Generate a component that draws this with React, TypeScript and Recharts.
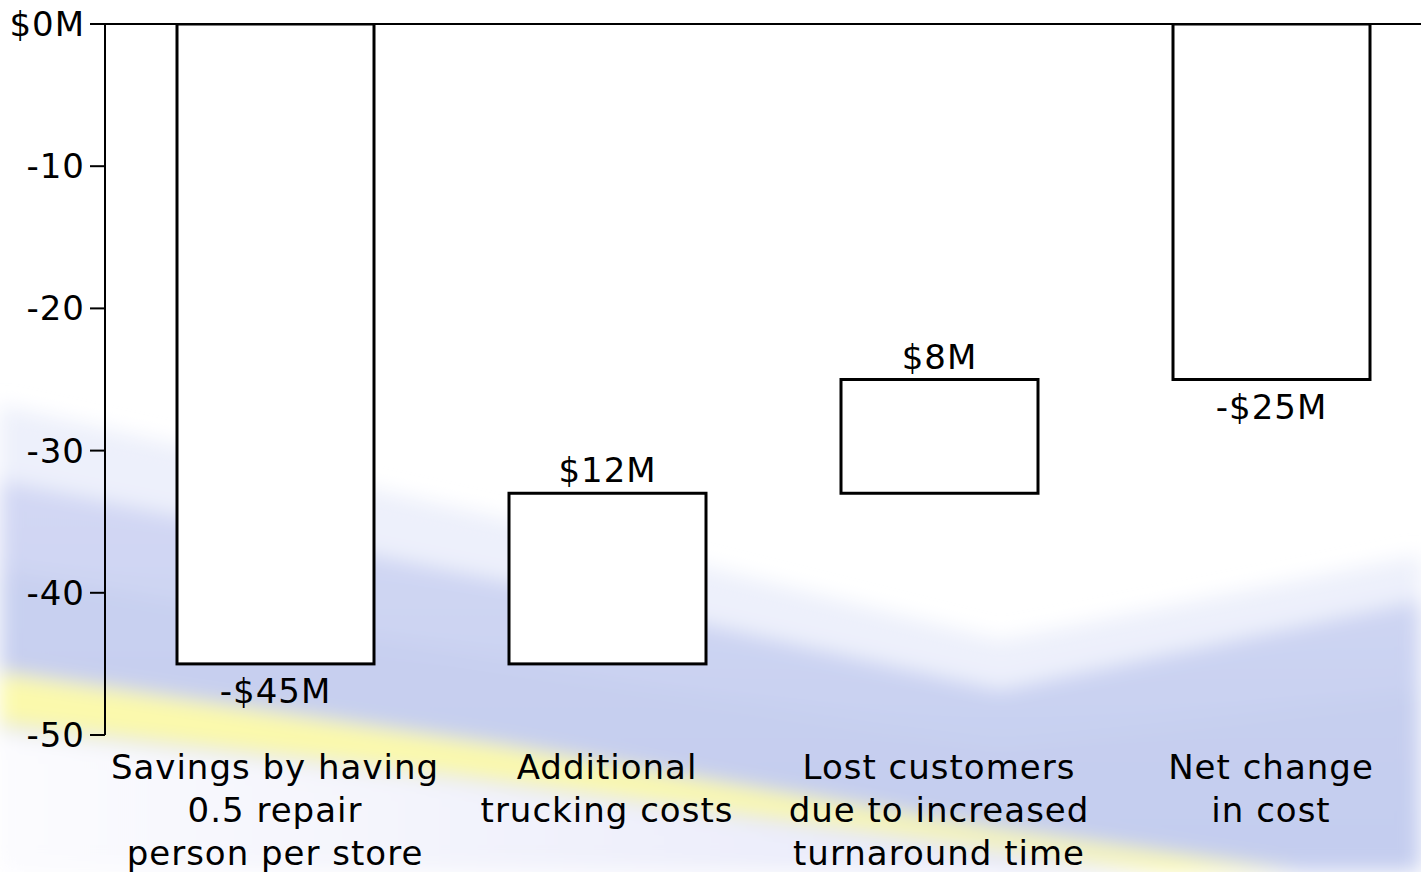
import React from 'react';
import { BarChart, Bar, XAxis, YAxis, ReferenceLine } from 'recharts';

// waterfall steps, $M
const categories = [
    ['Savings by having', '0.5 repair', 'person per store'],
    ['Additional', 'trucking costs'],
    ['Lost customers', 'due to increased', 'turnaround time'],
    ['Net change', 'in cost'],
];
const amounts = [-45, 12, 8, -25];
const isTotal = [false, false, false, true];
const yTicks = [0, -10, -20, -30, -40, -50];

const FONT = '"DejaVu Sans", Verdana, sans-serif';
const FS = 34;

let running = 0;
const data = categories.map((lines, i) => {
    let range: number[];
    if (isTotal[i]) {
        range = [0, amounts[i]];
        running = amounts[i];
    } else {
        range = [running, running + amounts[i]];
        running += amounts[i];
    }
    return { name: lines.join(' '), lines, amount: amounts[i], range };
});

const fmtMoney = (v: number) => (v < 0 ? `-$${Math.abs(v)}M` : `$${v}M`);

const StepBar = (props: any) => {
    const { x, y, width, height, payload } = props;
    const top = Math.min(y, y + height);
    const bottom = Math.max(y, y + height);
    const up = payload.amount > 0;
    return (
        <g>
            <rect x={x} y={top} width={width} height={bottom - top} fill="#ffffff" stroke="#000" strokeWidth={3} />
            <text
                x={x + width / 2}
                y={up ? top - 11 : bottom + 39}
                textAnchor="middle"
                fontSize={FS}
                letterSpacing={1}
                fontFamily={FONT}
                fill="#000"
            >
                {fmtMoney(payload.amount)}
            </text>
        </g>
    );
};

const CategoryTick = ({ x, y, index }: any) => {
    const lines = categories[index] || [];
    return (
        <text x={x} y={y} textAnchor="middle" fontSize={FS} letterSpacing={1} fontFamily={FONT} fill="#000">
            {lines.map((l, i) => (
                <tspan key={i} x={x} dy={i === 0 ? 36 : 43}>{l}</tspan>
            ))}
        </text>
    );
};

const Backdrop = () => (
    <svg width={1421} height={872} style={{ position: 'absolute', left: 0, top: 0 }}>
        <defs>
            <filter id="soft" x="-10%" y="-10%" width="120%" height="120%">
                <feGaussianBlur stdDeviation="10" />
            </filter>
            <linearGradient id="blueFill" x1="0" y1="0" x2="0" y2="1">
                <stop offset="0%" stopColor="#d3d8f4" />
                <stop offset="100%" stopColor="#c2cdef" />
            </linearGradient>
            <linearGradient id="underFill" x1="0" y1="0" x2="1" y2="0">
                <stop offset="0%" stopColor="#fbfbfe" />
                <stop offset="60%" stopColor="#eeeffb" />
                <stop offset="100%" stopColor="#e4e6f8" />
            </linearGradient>
        </defs>
        <rect width={1421} height={872} fill="#ffffff" />
        <g filter="url(#soft)">
            <polygon points="0,405 600,540 1000,640 1421,555 1421,872 0,872" fill="#edf0fb" />
            <polygon points="0,480 600,600 1000,690 1421,600 1421,872 0,872" fill="url(#blueFill)" />
            <polygon points="0,570 500,660 1000,745 1421,690 1421,872 0,872" fill="#c4cdef" opacity={0.6} />
            <polygon points="0,672 500,745 1000,830 1300,872 1170,872 900,835 450,775 0,725" fill="#fbf9ac" />
            <polygon points="0,730 450,778 900,838 1170,872 0,872" fill="url(#underFill)" />
        </g>
    </svg>
);

export default function App() {
    return (
        <div style={{ position: 'absolute', left: 0, top: 0, width: 1421, height: 872, overflow: 'hidden', background: '#fff' }}>
            <Backdrop />
            <div style={{ position: 'absolute', left: 0, top: 0 }}>
                <BarChart
                    width={1440}
                    height={872}
                    data={data}
                    margin={{ top: 24, right: 3, left: 0, bottom: 0 }}
                    barSize={197}
                >
                    <XAxis
                        dataKey="name"
                        axisLine={false}
                        tickLine={false}
                        interval={0}
                        height={137}
                        padding={{ left: 4, right: 0 }}
                        tick={<CategoryTick />}
                    />
                    <YAxis
                        domain={[-50, 0]}
                        ticks={yTicks}
                        width={105}
                        axisLine={{ stroke: '#000', strokeWidth: 2 }}
                        tickLine={{ stroke: '#000', strokeWidth: 2 }}
                        tickSize={15}
                        tickMargin={5}
                        tickFormatter={(v: number) => (v === 0 ? '$0M' : String(v))}
                        tick={{ fill: '#000', fontSize: FS, fontFamily: FONT, letterSpacing: 1 }}
                        allowDataOverflow
                    />
                    <ReferenceLine y={0} stroke="#000" strokeWidth={2} />
                    <Bar dataKey="range" shape={<StepBar />} isAnimationActive={false} />
                </BarChart>
            </div>
        </div>
    );
}
